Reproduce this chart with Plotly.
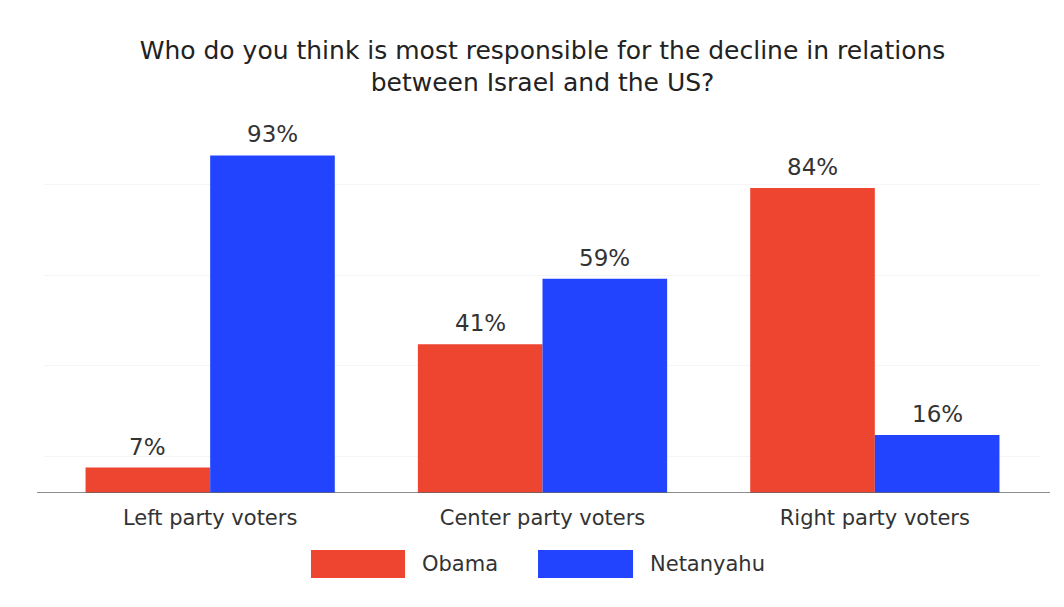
import plotly.graph_objects as go

categories = ["Left party voters", "Center party voters", "Right party voters"]
series_names = ["Obama", "Netanyahu"]
obama = [7, 41, 84]
netanyahu = [93, 59, 16]
colors = ["#EE4530", "#2244FF"]
title_text = "Who do you think is most responsible for the decline in relations<br>between Israel and the US?"

font_family = "DejaVu Sans, Verdana, sans-serif"
text_color = "#333333"
bargap = 0.25

fig = go.Figure()
n_series = 2
bar_w = (1 - bargap) / n_series
for s, (name, vals, col) in enumerate(zip(series_names, [obama, netanyahu], colors)):
    fig.add_trace(go.Bar(
        x=categories, y=vals, name=name,
        marker=dict(color=col, line=dict(width=0)),
        showlegend=False, hoverinfo="x+y",
    ))
    # value labels above each bar, positioned through the axes
    offset = -((1 - bargap) / 2) + bar_w * (s + 0.5)
    for i, v in enumerate(vals):
        fig.add_annotation(x=i + offset, y=v, xref="x", yref="y",
                           text=f"{v}%", showarrow=False,
                           yanchor="bottom", yshift=6,
                           font=dict(size=23, color=text_color, family=font_family))

# custom legend (large swatches like the reference)
legend_items = [(0.2678, 0.3621, 0.377, 0), (0.4955, 0.5908, 0.6058, 1)]
for x0, x1, xt, i in legend_items:
    fig.add_shape(type="rect", xref="paper", yref="paper",
                  x0=x0, x1=x1, y0=-0.157, y1=-0.234,
                  fillcolor=colors[i], line=dict(width=0))
    fig.add_annotation(xref="paper", yref="paper", x=xt, y=-0.1955,
                       text=series_names[i], showarrow=False, xanchor="left",
                       yanchor="middle",
                       font=dict(size=21, color=text_color, family=font_family))

# baseline
fig.add_shape(type="line", xref="paper", yref="y", x0=-0.007, x1=1.009, y0=0, y1=0,
              line=dict(color="#666666", width=1.5))

fig.update_layout(
    width=1064, height=607,
    paper_bgcolor="white", plot_bgcolor="white",
    margin=dict(l=44, r=23, t=130, b=114),
    barmode="group", bargap=bargap, bargroupgap=0,
    title=dict(text=title_text, x=0.5, xref="paper", xanchor="center",
               y=1 - 58.5 / 607, yref="container", yanchor="middle",
               font=dict(size=25, color="#222222", family=font_family)),
    font=dict(family=font_family, color=text_color),
)
fig.update_xaxes(showline=False, ticks="", ticklabelstandoff=10,
                 tickfont=dict(size=21, color=text_color, family=font_family),
                 showgrid=False)
fig.update_yaxes(range=[0, 100], showticklabels=False, showgrid=True,
                 gridcolor="#f5f5f5", tick0=10, dtick=25, zeroline=False)

fig.write_html("out.html", config={"displayModeBar": False})

with open("out.html", "r", encoding="utf-8") as f:
    html = f.read()
html = html.replace("<head>", "<head><style>html,body{margin:0;padding:0;overflow:hidden}</style>", 1)
with open("out.html", "w", encoding="utf-8") as f:
    f.write(html)
